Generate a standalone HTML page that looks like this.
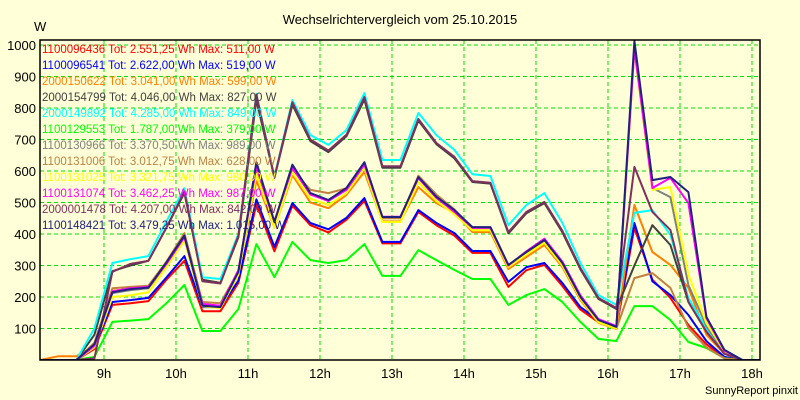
<!DOCTYPE html>
<html><head><meta charset="utf-8"><style>
html,body{margin:0;padding:0;background:#ffffd8;}
svg{display:block;font-family:"Liberation Sans",sans-serif;}
</style></head><body>
<svg id="chart" width="800" height="400" viewBox="0 0 800 400">
<rect x="0" y="0" width="800" height="400" fill="#ffffd8"/>
<text x="400" y="24" font-size="13" text-anchor="middle" fill="#000">Wechselrichtervergleich vom 25.10.2015</text>
<text x="34" y="31" font-size="13" fill="#000">W</text>
<text x="798" y="394" font-size="11" text-anchor="end" fill="#000">SunnyReport pinxit</text>
<defs><clipPath id="plotclip"><rect x="40" y="40" width="720" height="320"/></clipPath></defs>
<g id="grid"></g>
<g id="series" clip-path="url(#plotclip)"></g>
<rect x="40" y="40" width="720" height="320" fill="none" stroke="#000" stroke-width="1.5"/>
<g id="axes"></g>
<g id="legend"></g>
</svg>
<script>
const times = ["8:07","8:22","8:37","8:52","9:07","9:22","9:37","9:52","10:07","10:22","10:37","10:52","11:07","11:22","11:37","11:52","12:07","12:22","12:37","12:52","13:07","13:22","13:37","13:52","14:07","14:22","14:37","14:52","15:07","15:22","15:37","15:52","16:07","16:22","16:37","16:52","17:07","17:22","17:37","17:52","18:07"];
const yTicks = [100,200,300,400,500,600,700,800,900,1000];
const xTicks = [9,10,11,12,13,14,15,16,17,18];
const xTickLabels = ["9h","10h","11h","12h","13h","14h","15h","16h","17h","18h"];
const seriesNames = ["1100096436","1100096541","2000150622","2000154799","2000149892","1100129553","1100130966","1100131006","1100131025","1100131074","2000001478","1100148421"];
const seriesTotals = ["Tot: 2.551,25 Wh Max: 511,00 W","Tot: 2.622,00 Wh Max: 519,00 W","Tot: 3.041,00 Wh Max: 599,00 W","Tot: 4.046,00 Wh Max: 827,00 W","Tot: 4.285,00 Wh Max: 849,00 W","Tot: 1.787,00 Wh Max: 379,00 W","Tot: 3.370,50 Wh Max: 989,00 W","Tot: 3.012,75 Wh Max: 628,00 W","Tot: 3.321,75 Wh Max: 980,00 W","Tot: 3.462,25 Wh Max: 987,00 W","Tot: 4.207,00 Wh Max: 842,00 W","Tot: 3.479,25 Wh Max: 1.015,00 W"];
const seriesColors = ["#ff0000","#0000ff","#ff8000","#404040","#00ffff","#00ff00","#808080","#c08040","#ffff00","#ff00ff","#803060","#202080"];
const s1100096436 = [0,0,0,35,175,180,187,255,315,155,155,245, 495,345,490,428,405,445,505,370,370,470,428,395,340,340,232,285,302,235,160,120,100, 419,255,197,111,50,8,0,0];
const s1100096541 = [0,0,0,40,184,190,197,262,330,168,168,252, 510,359,498,435,415,451,514,375,375,476,435,403,346,346,248,295,308,244,168,127,105, 435,250,206,143,60,10,0,0];
const s2000150622 = [0,12,12,45,220,225,228,300,385,175,170,275, 570,420,587,500,482,524,597,440,440,549,498,467,406,406,289,327,365,295,190,118,98, 492,343,302,229,80,20,0,0];
const s2000154799 = [0,0,0,80,282,300,315,420,530,255,245,390, 825,578,810,695,660,710,827,610,610,760,685,640,565,560,402,466,498,405,288,194,162, 300,428,365,184,90,20,0,0];
const s2000149892 = [0,0,0,100,308,320,330,440,545,263,257,400, 845,581,825,714,683,730,847,635,635,784,714,667,590,584,428,492,530,435,308,206,175, 467,476,397,197,100,25,0,0];
const s1100129553 = [0,0,0,10,121,125,130,180,238,92,92,162, 368,263,375,317,308,317,368,267,267,349,317,286,257,257,175,206,225,184,121,67,60, 171,171,127,57,38,6,0,0];
const s1100130966 = [0,0,0,48,212,222,228,305,392,172,168,278, 620,435,615,528,505,543,625,452,452,578,515,472,420,420,300,340,378,305,198,125,103, 989,546,517,238,108,25,0,0];
const s1100131006 = [0,0,0,55,228,232,236,312,403,184,180,282, 600,430,605,540,530,545,622,450,450,585,525,478,418,418,298,340,378,300,200,122,100, 260,276,229,102,40,5,0,0];
const s1100131025 = [0,0,0,40,200,205,215,295,380,170,165,270, 590,420,595,512,492,530,610,438,438,565,505,462,412,412,295,335,372,300,195,120,100, 980,540,549,270,117,28,0,0];
const s1100131074 = [0,0,0,45,218,228,232,305,390,178,172,285, 615,440,610,525,505,540,620,455,455,578,515,470,420,420,300,345,385,312,205,130,108, 987,546,578,498,133,30,0,0];
const s2000001478 = [0,0,0,5,280,305,315,420,535,250,243,395, 842,580,818,700,665,715,835,615,615,765,689,645,568,563,406,470,502,410,292,197,165, 613,470,413,184,90,20,0,0];
const s1100148421 = [0,0,0,50,215,225,230,310,395,172,168,280, 628,438,620,530,508,546,628,454,454,581,518,476,422,422,302,343,381,308,200,127,105, 1013,571,581,533,137,32,0,0];
const seriesValues = [s1100096436,s1100096541,s2000150622,s2000154799,s2000149892,s1100129553,s1100130966,s1100131006,s1100131025,s1100131074,s2000001478,s1100148421];

const NS = "http://www.w3.org/2000/svg";
function xScale(h){ return 104 + (h - 9) * 72; }
function yScale(v){ return 360 - v * 0.315; }
function parseTime(t){ const p = t.split(":"); return +p[0] + (+p[1]) / 60; }

const grid = document.getElementById("grid");
const axes = document.getElementById("axes");
yTicks.forEach(function(v){
  const y = yScale(v);
  const l = document.createElementNS(NS, "line");
  
  
  l.setAttribute("x1", 40); l.setAttribute("x2", 760);
  l.setAttribute("y1", y); l.setAttribute("y2", y);
  l.setAttribute("stroke", "#00e000"); l.setAttribute("stroke-dasharray", "4,3");
  grid.appendChild(l);
  const t = document.createElementNS(NS, "text");
  
  
  t.setAttribute("x", 36); t.setAttribute("y", y + 5);
  t.setAttribute("font-size", "13"); t.setAttribute("text-anchor", "end");
  t.textContent = v;
  axes.appendChild(t);
});
xTicks.forEach(function(h, i){
  const x = xScale(h);
  const l = document.createElementNS(NS, "line");
  
  
  l.setAttribute("x1", x); l.setAttribute("x2", x);
  l.setAttribute("y1", 40); l.setAttribute("y2", 360);
  l.setAttribute("stroke", "#00e000"); l.setAttribute("stroke-dasharray", "4,3");
  grid.appendChild(l);
  const t = document.createElementNS(NS, "text");
  
  
  t.setAttribute("x", x); t.setAttribute("y", 378);
  t.setAttribute("font-size", "13"); t.setAttribute("text-anchor", "middle");
  t.textContent = xTickLabels[i];
  axes.appendChild(t);
});

const seriesG = document.getElementById("series");
seriesValues.forEach(function(vals, si){
  const pts = vals.map(function(v, k){ return xScale(parseTime(times[k])).toFixed(1) + "," + yScale(v).toFixed(1); }).join(" ");
  const pl = document.createElementNS(NS, "polyline");
  
  
  pl.setAttribute("points", pts);
  pl.setAttribute("fill", "none");
  pl.setAttribute("stroke", seriesColors[si]);
  pl.setAttribute("stroke-width", "2");
  pl.setAttribute("stroke-linejoin", "round");
  seriesG.appendChild(pl);
});

const legend = document.getElementById("legend");
seriesNames.forEach(function(n, i){
  const t = document.createElementNS(NS, "text");
  
  
  t.setAttribute("x", 42); t.setAttribute("y", 53 + i * 16);
  t.setAttribute("font-size", "11.5"); t.setAttribute("fill", seriesColors[i]);
  t.textContent = n + " " + seriesTotals[i];
  legend.appendChild(t);
});
</script>
</body></html>
